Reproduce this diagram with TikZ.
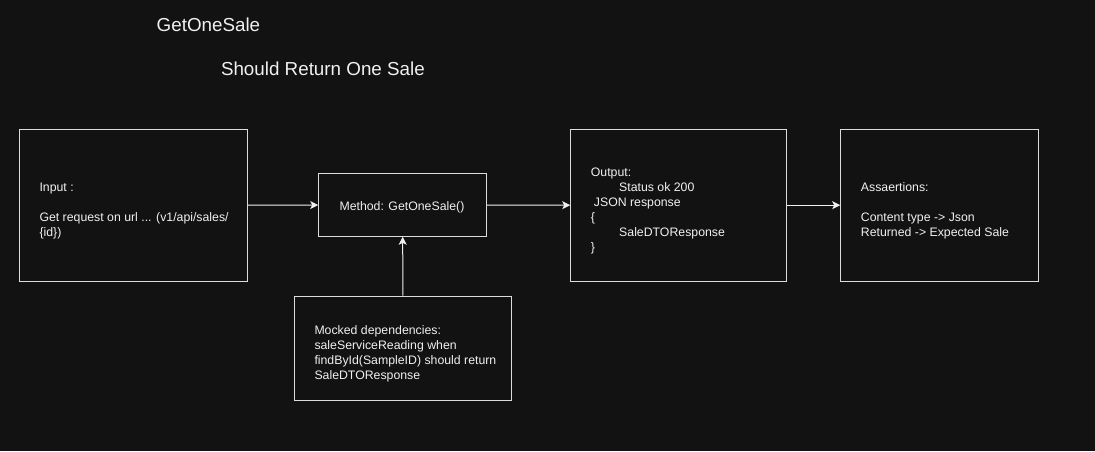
\documentclass[tikz,border=0pt]{standalone}
\usepackage{fontspec}
\setmainfont{Liberation Sans}
\usetikzlibrary{arrows.meta}
\definecolor{bgc}{HTML}{121212}
\definecolor{fgc}{HTML}{F0F0F0}
\definecolor{boxline}{HTML}{DCDCDC}
\begin{document}
\begin{tikzpicture}[x=1pt,y=-1pt,
  box/.style={draw=boxline,line width=1pt,fill=bgc,inner sep=0pt},
  txt/.style={anchor=base west,inner sep=0pt,text=fgc,font=\fontsize{12.3}{14}\selectfont},
  ttl/.style={anchor=base west,inner sep=0pt,text=fgc,font=\fontsize{18.8}{22}\selectfont},
  arr/.style={draw=fgc,line width=1pt,-{Stealth[length=8pt,width=8pt,inset=2pt]}}]
\fill[bgc] (0,0) rectangle (1095,451);
\useasboundingbox (0,0) rectangle (1095,451);
% titles
\node[ttl] (t1) at (156.5,31.7) {GetOneSale};
\node[ttl] (t2) at (220.8,75) {Should Return One Sale};
% boxes
\node[box,minimum width=228pt,minimum height=152pt] (inp) at (133.3,205.2) {};
\node[box,minimum width=168pt,minimum height=62.6pt] (meth) at (402.7,205) {};
\node[box,minimum width=216.3pt,minimum height=104pt] (mock) at (402.85,348) {};
\node[box,minimum width=215.6pt,minimum height=152pt] (outp) at (678.5,205.2) {};
\node[box,minimum width=197.6pt,minimum height=152pt] (asrt) at (939.5,205.2) {};
% texts
\node[txt] (i1) at (39.3,191) {Input :};
\node[txt] (i2) at (39.3,221) {Get request on url ... (v1/api/sales/};
\node[txt] (i3) at (39.3,236) {\{id\})};
\node[txt] (m1) at (339.3,210) {Method: GetOneSale()};
\node[txt] (k1) at (314.3,334) {Mocked dependencies:};
\node[txt] (k2) at (314.3,349) {saleServiceReading when};
\node[txt] (k3) at (314.3,364) {findById(SampleID) should return};
\node[txt] (k4) at (314.3,379) {SaleDTOResponse};
\node[txt] (o1) at (590.7,176) {Output:};
\node[txt] (o2) at (619,191) {Status ok 200};
\node[txt] (o3) at (593.7,206.3) {JSON response};
\node[txt] (o4) at (590.7,221.4) {\{};
\node[txt] (o5) at (619,236.5) {SaleDTOResponse};
\node[txt] (o6) at (590.7,251.6) {\}};
\node[txt] (a1) at (860.7,191) {Assaertions:};
\node[txt] (a2) at (860.7,221.5) {Content type -> Json};
\node[txt] (a3) at (860.7,236.5) {Returned -> Expected Sale};
% connectors
\draw[arr] (inp.east) -- (meth.west);
\draw[arr] (meth.east) -- (outp.west);
\draw[arr] (outp.east) -- (asrt.west);
\draw[arr] (mock.north) -- (meth.south);
\end{tikzpicture}
\end{document}
